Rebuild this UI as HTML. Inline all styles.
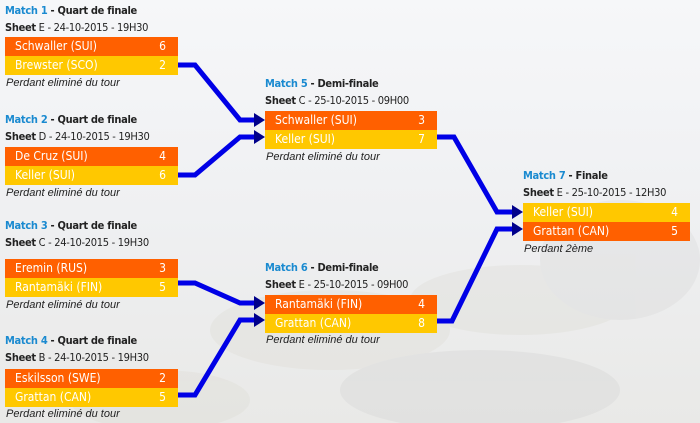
<!DOCTYPE html>
<html><head><meta charset="utf-8"><style>
body{margin:0;width:700px;height:423px;overflow:hidden;background:linear-gradient(180deg,#f6f7f9 0%,#eff0f2 50%,#e9e9e7 100%);font-family:"DejaVu Sans Condensed","Liberation Sans",sans-serif;position:relative}
.t{position:absolute;font-size:11px;color:#222;white-space:nowrap;letter-spacing:-0.3px;font-weight:bold}
.t b{color:#1a8ad0;font-weight:bold}
.s{font-weight:normal}
.s b{font-weight:bold;color:#222}
.i{position:absolute;font-size:11px;font-style:italic;color:#222;white-space:nowrap;font-family:"Liberation Sans",sans-serif}
.r{position:absolute;height:19px;line-height:19px;color:#fff;font-size:12px;box-sizing:border-box;padding-left:10px;white-space:nowrap}
.o{background:#ff6000}.y{background:#ffc800}
.r span{position:absolute;right:12px}
svg{position:absolute;left:0;top:0}
</style></head><body>
<svg width="700" height="423">
<g fill="#d8d6cc" opacity="0.25">
<ellipse cx="330" cy="330" rx="120" ry="40"/><ellipse cx="520" cy="300" rx="110" ry="35"/><ellipse cx="620" cy="260" rx="80" ry="60" fill="#cfcfcf"/><ellipse cx="480" cy="390" rx="140" ry="40" fill="#cacaca"/><ellipse cx="160" cy="400" rx="90" ry="30"/>
</g>
<g fill="none" stroke="#0000e6" stroke-width="5" stroke-linejoin="miter">
<polyline points="178,65 195,65 240,120 258,120"/>
<polyline points="178,175 195,175 240,137 258,137"/>
<polyline points="178,283 195,283 240,303 258,303"/>
<polyline points="178,395 195,395 240,320 258,320"/>
<polyline points="437,137 454,137 497,212 515,212"/>
<polyline points="437,321 452,321 497,229 515,229"/>
</g>
<g fill="#00008a">
<polygon points="254,113 265,120 254,127"/><polygon points="254,130 265,137 254,144"/>
<polygon points="254,296 265,303 254,310"/><polygon points="254,313 265,320 254,327"/>
<polygon points="512,205 523,212 512,219"/><polygon points="512,222 523,229 512,236"/>
</g>
</svg>

<div class="t" style="left:5px;top:4px"><b>Match 1</b> - Quart de finale</div>
<div class="t s" style="left:5px;top:21px"><b>Sheet</b> E - 24-10-2015 - 19H30</div>
<div class="r o" style="left:5px;top:37px;width:173px">Schwaller (SUI)<span>6</span></div>
<div class="r y" style="left:5px;top:56px;width:173px">Brewster (SCO)<span>2</span></div>
<div class="i" style="left:6px;top:77px">Perdant eliminé du tour</div>

<div class="t" style="left:5px;top:113px"><b>Match 2</b> - Quart de finale</div>
<div class="t s" style="left:5px;top:130px"><b>Sheet</b> D - 24-10-2015 - 19H30</div>
<div class="r o" style="left:5px;top:147px;width:173px">De Cruz (SUI)<span>4</span></div>
<div class="r y" style="left:5px;top:166px;width:173px">Keller (SUI)<span>6</span></div>
<div class="i" style="left:6px;top:187px">Perdant eliminé du tour</div>

<div class="t" style="left:5px;top:219px"><b>Match 3</b> - Quart de finale</div>
<div class="t s" style="left:5px;top:236px"><b>Sheet</b> C - 24-10-2015 - 19H30</div>
<div class="r o" style="left:5px;top:259px;width:173px">Eremin (RUS)<span>3</span></div>
<div class="r y" style="left:5px;top:278px;width:173px">Rantamäki (FIN)<span>5</span></div>
<div class="i" style="left:6px;top:299px">Perdant eliminé du tour</div>

<div class="t" style="left:5px;top:334px"><b>Match 4</b> - Quart de finale</div>
<div class="t s" style="left:5px;top:351px"><b>Sheet</b> B - 24-10-2015 - 19H30</div>
<div class="r o" style="left:5px;top:369px;width:173px">Eskilsson (SWE)<span>2</span></div>
<div class="r y" style="left:5px;top:388px;width:173px">Grattan (CAN)<span>5</span></div>
<div class="i" style="left:6px;top:408px">Perdant eliminé du tour</div>

<div class="t" style="left:265px;top:77px"><b>Match 5</b> - Demi-finale</div>
<div class="t s" style="left:265px;top:94px"><b>Sheet</b> C - 25-10-2015 - 09H00</div>
<div class="r o" style="left:265px;top:111px;width:172px">Schwaller (SUI)<span>3</span></div>
<div class="r y" style="left:265px;top:130px;width:172px">Keller (SUI)<span>7</span></div>
<div class="i" style="left:266px;top:151px">Perdant eliminé du tour</div>

<div class="t" style="left:265px;top:261px"><b>Match 6</b> - Demi-finale</div>
<div class="t s" style="left:265px;top:278px"><b>Sheet</b> E - 25-10-2015 - 09H00</div>
<div class="r o" style="left:265px;top:295px;width:172px">Rantamäki (FIN)<span>4</span></div>
<div class="r y" style="left:265px;top:314px;width:172px">Grattan (CAN)<span>8</span></div>
<div class="i" style="left:266px;top:334px">Perdant eliminé du tour</div>

<div class="t" style="left:523px;top:169px"><b>Match 7</b> - Finale</div>
<div class="t s" style="left:523px;top:186px"><b>Sheet</b> E - 25-10-2015 - 12H30</div>
<div class="r y" style="left:523px;top:203px;width:167px">Keller (SUI)<span>4</span></div>
<div class="r o" style="left:523px;top:222px;width:167px">Grattan (CAN)<span>5</span></div>
<div class="i" style="left:524px;top:243px">Perdant 2ème</div>
</body></html>
